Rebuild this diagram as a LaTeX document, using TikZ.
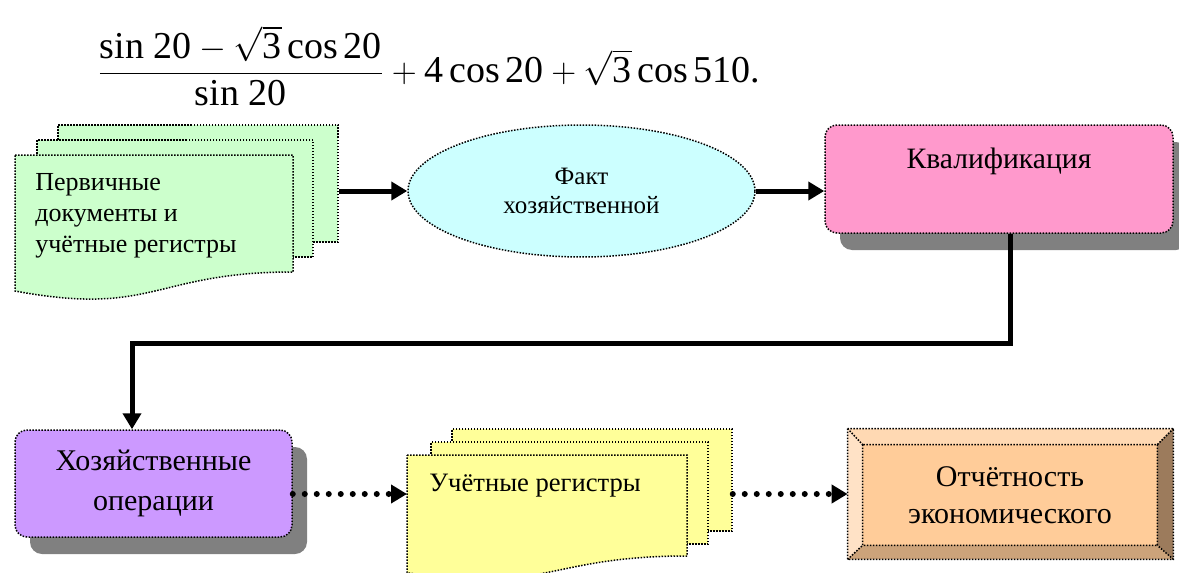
\documentclass[tikz,border=0pt]{standalone}
\usepackage{amsmath}
\usepackage{fontspec}
\setmainfont{Liberation Serif}
\usetikzlibrary{arrows.meta,positioning,shapes.geometric,shadows}
\definecolor{docgreen}{HTML}{CCFFCC}
\definecolor{factcyan}{HTML}{CCFFFF}
\definecolor{qualpink}{HTML}{FF99CC}
\definecolor{opviolet}{HTML}{CC99FF}
\definecolor{regyellow}{HTML}{FFFF99}
\definecolor{repface}{HTML}{FFCC99}
\definecolor{repleft}{HTML}{FFE2C6}
\definecolor{reptop}{HTML}{FFD9B3}
\definecolor{repright}{HTML}{9C7B5C}
\definecolor{repbottom}{HTML}{CCA37A}
\definecolor{shadowgray}{HTML}{808080}
\newcommand{\rmt}[1]{\text{#1}}
\tikzstyle{dotborder}=[dash pattern=on 0.75pt off 0.75pt,line width=0.75pt]
\tikzstyle{sheet}=[draw,dotborder,rectangle,inner sep=0pt]
\tikzstyle{rbox}=[draw,dotborder,rectangle,rounded corners=6pt,inner sep=0pt,align=center,
  drop shadow={shadow xshift=7.5pt,shadow yshift=-8.5pt,fill=shadowgray,opacity=1,draw=none}]
\tikzstyle{flow}=[line width=2.5pt]
\tikzstyle{dots}=[line width=3pt,dash pattern=on 0pt off 6pt,line cap=round]

\begin{document}
\begin{tikzpicture}[x=0.5pt,y=-0.5pt,>={Triangle[length=8pt,width=9pt]}]
\useasboundingbox (0,0) rectangle (1179,573);
% formula
\node (eq) [anchor=base west,inner sep=0pt,font=\fontsize{19}{19}\selectfont] at (97,82)
 {$\dfrac{\rmt{sin 20}-\sqrt{\rmt{3}}\,\rmt{cos}\,\rmt{20}}{\rmt{sin 20}\rule[-4pt]{0pt}{4pt}}+\rmt{4}\,\rmt{cos}\,\rmt{20}+\sqrt{\rmt{3}}\,\rmt{cos}\,\rmt{510.}$};
% documents
\node[sheet,fill=docgreen,minimum width=140pt,minimum height=58.5pt] (docC) at (198,183.5) {};
\node[sheet,fill=docgreen,minimum width=138pt,minimum height=58.5pt] (docB) at (175,198.5) {};
\coordinate (docA) at (15,155);
\draw[dotborder,fill=docgreen] (docA) -- (293,155) -- (293,272) .. controls (154,272) and (154,317) .. (15,291) -- cycle;
\node[anchor=north west,inner sep=0pt,align=left,font=\fontsize{13}{15.5}\selectfont] (docText) at (35,173)
 {Первичные\\документы и\\учётные регистры};
\node[draw,dotborder,ellipse,fill=factcyan,minimum width=173.5pt,minimum height=66pt,inner sep=0pt,
 align=center,font=\fontsize{12.5}{14.5}\selectfont] (fact) at (581.5,191) {Факт\\хозяйственной};
\node[rbox,fill=qualpink,minimum width=174pt,text height=21.5pt,text depth=32.5pt,
 font=\fontsize{14.8}{17}\selectfont] (qual) at (999,179) {Квалификация};
\node[rbox,fill=opviolet,minimum width=138.5pt,minimum height=53.5pt,
 font=\fontsize{15}{20}\selectfont] (ops) at (153.5,483.5) {Хозяйственные\\операции};
% registers
\node[sheet,fill=regyellow,minimum width=140pt,minimum height=51pt] (regC) at (592,480) {};
\node[sheet,fill=regyellow,minimum width=138.5pt,minimum height=51pt] (regB) at (569.5,493) {};
\coordinate (regA) at (407,455);
\draw[dotborder,fill=regyellow] (regA) -- (687,455) -- (687,556) .. controls (547,556) and (547,594.5) .. (407,572.7) -- cycle;
\node[anchor=base west,inner sep=0pt,font=\fontsize{13.3}{17}\selectfont] (regText) at (429,491) {Учётные регистры};
% report
\node[rectangle,fill=repface,minimum width=162.5pt,minimum height=65pt,inner sep=0pt] (rep) at (1010.5,494) {};
\node[rectangle,minimum width=147pt,minimum height=50pt,inner sep=0pt] (repIn) at (1010,495) {};
\fill[reptop] (rep.north west) -- (rep.north east) -- (repIn.north east) -- (repIn.north west) -- cycle;
\fill[repleft] (rep.north west) -- (repIn.north west) -- (repIn.south west) -- (rep.south west) -- cycle;
\fill[repright] (rep.north east) -- (repIn.north east) -- (repIn.south east) -- (rep.south east) -- cycle;
\fill[repbottom] (rep.south west) -- (repIn.south west) -- (repIn.south east) -- (rep.south east) -- cycle;
\draw[dotborder] (rep.north west) rectangle (rep.south east)
 (repIn.north west) rectangle (repIn.south east)
 (rep.north west) -- (repIn.north west) (rep.north east) -- (repIn.north east)
 (rep.south west) -- (repIn.south west) (rep.south east) -- (repIn.south east);
\node[align=center,inner sep=0pt,font=\fontsize{15}{18.5}\selectfont] (repText) at (repIn) {Отчётность\\экономического};
% connectors
\coordinate (turn) at (132,343);
\path[->,flow]
(docC.east |- fact.west) edge (fact.west)
(fact.east) edge (fact.east -| qual.west);
\draw[->,flow] ([xshift=5.5pt]qual.south) |- (turn) -- (ops.north -| turn);
\path[->,dots]
(ops.east |- rep.west) edge (regA |- rep.west)
(regC.east |- rep.west) edge (rep.west);
\end{tikzpicture}
\end{document}
